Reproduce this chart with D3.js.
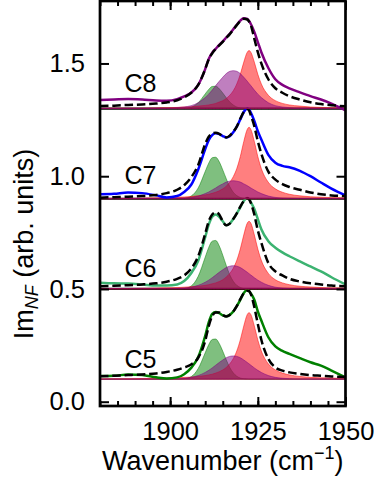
<!DOCTYPE html>
<html>
<head>
<meta charset="utf-8">
<script src="https://cdn.jsdelivr.net/npm/d3@7"></script>
<style>
  body { margin: 0; background: #fff; }
  svg { display: block; font-family: "Liberation Sans", Arial, sans-serif; }
</style>
</head>
<body>
<svg id="chart" width="374" height="482"></svg>
<script>
// sample grid, cm^-1
const wavenumber = [1880, 1884, 1888, 1892, 1896, 1899, 1902, 1904, 1906, 1908, 1910,
    1911, 1912, 1913, 1914, 1915, 1916, 1917, 1918, 1919, 1920, 1921,
    1922, 1922.5, 1923, 1924, 1925, 1926, 1928, 1930, 1932, 1934,
    1937, 1940, 1943, 1946, 1950]

const names = ['C5', 'C6', 'C7', 'C8']
const offsets = [0.1, 0.5, 0.9, 1.3]
const labelY = [0.15, 0.555, 0.965, 1.375]
const xTicks = [1900, 1925, 1950]
const yTicks = [0, 0.5, 1.0, 1.5]

// measured spectra (already offset)
const dataC5 = [.114, .115, .121, .118, .108, .103, .108, .122, .150, .198, .292,
    .352, .390, .398, .393, .383, .379, .385, .400, .424, .452, .482,
    .495, .490, .480, .452, .400, .360, .286, .245, .225, .212,
    .193, .175, .160, .138, .108]
const dataC6 = [.528, .525, .524, .520, .515, .515, .520, .535, .570, .625, .730,
    .785, .820, .830, .820, .800, .782, .790, .810, .835, .862, .890,
    .903, .898, .885, .855, .810, .765, .712, .683, .662, .645,
    .622, .600, .578, .552, .520]
const dataC7 = [.920, .922, .928, .925, .915, .906, .912, .930, .962, 1.030, 1.120,
    1.160, 1.182, 1.190, 1.187, 1.178, 1.172, 1.177, 1.195, 1.220, 1.252, 1.285,
    1.300, 1.296, 1.282, 1.245, 1.200, 1.163, 1.095, 1.060, 1.046, 1.040,
    1.024, 1.000, .972, .945, .915]
const dataC8 = [1.338, 1.340, 1.342, 1.340, 1.336, 1.335, 1.342, 1.354, 1.370, 1.405, 1.475,
    1.520, 1.548, 1.565, 1.582, 1.598, 1.615, 1.632, 1.652, 1.672, 1.690, 1.700,
    1.697, 1.688, 1.675, 1.640, 1.595, 1.550, 1.480, 1.430, 1.405, 1.390,
    1.372, 1.355, 1.340, 1.322, 1.292]

// fits (dashed)
const fitC5 = [.113, .115, .118, .121, .125, .132, .142, .152, .165, .195, .270,
    .335, .380, .396, .396, .385, .378, .385, .400, .424, .455, .482,
    .492, .490, .478, .420, .345, .275, .190, .152, .138, .130,
    .123, .118, .115, .112, .110]
const fitC6 = [.512, .514, .517, .520, .525, .532, .545, .560, .590, .645, .745,
    .800, .830, .840, .830, .800, .782, .790, .810, .835, .865, .890,
    .902, .898, .882, .830, .760, .705, .615, .578, .560, .545,
    .533, .525, .520, .515, .512]
const fitC7 = [.905, .907, .909, .912, .917, .925, .940, .960, .995, 1.050, 1.143,
    1.175, 1.190, 1.193, 1.188, 1.178, 1.172, 1.180, 1.197, 1.220, 1.255, 1.285,
    1.298, 1.292, 1.270, 1.222, 1.155, 1.100, 1.020, .985, .965, .952,
    .940, .928, .920, .915, .912]
const fitC8 = [1.311, 1.313, 1.316, 1.318, 1.322, 1.327, 1.337, 1.350, 1.370, 1.405, 1.475,
    1.518, 1.545, 1.565, 1.580, 1.596, 1.613, 1.630, 1.650, 1.670, 1.688, 1.698,
    1.695, 1.686, 1.670, 1.610, 1.550, 1.500, 1.430, 1.390, 1.370, 1.355,
    1.340, 1.328, 1.320, 1.315, 1.310]

// fitted components, height above each offset
const greenC5 = [0, 0, 0, 0, 0, 0, 0, .002, .011, .047, .117,
    .153, .176, .178, .158, .124, .086, .052, .028, .013, .005, .002,
    .001, 0, 0, 0, 0, 0, 0, 0, 0, 0, 0, 0, 0, 0, 0]
const greenC6 = [0, 0, 0, 0, 0, 0, 0, .002, .013, .056, .141,
    .184, .212, .215, .191, .150, .104, .063, .034, .016, .007, .002,
    .001, 0, 0, 0, 0, 0, 0, 0, 0, 0, 0, 0, 0, 0, 0]
const greenC7 = [0, 0, 0, 0, 0, 0, 0, .002, .012, .048, .121,
    .158, .182, .184, .164, .128, .089, .054, .029, .014, .006, .002,
    .001, 0, 0, 0, 0, 0, 0, 0, 0, 0, 0, 0, 0, 0, 0]
const greenC8 = [0, 0, 0, 0, 0, 0, 0, .001, .006, .026, .065,
    .085, .098, .099, .088, .069, .048, .029, .016, .007, .003, .001,
    0, 0, 0, 0, 0, 0, 0, 0, 0, 0, 0, 0, 0, 0, 0]

const redC5 = [.001, .002, .002, .003, .004, .005, .006, .008, .009, .012, .016,
    .019, .022, .027, .033, .041, .052, .068, .091, .125, .174, .236,
    .287, .295, .287, .236, .174, .125, .068, .041, .027, .019,
    .012, .008, .006, .005, .003]
const redC6 = [.002, .002, .002, .003, .004, .005, .006, .008, .010, .012, .016,
    .019, .023, .027, .033, .041, .053, .069, .092, .127, .177, .240,
    .292, .300, .292, .240, .177, .127, .069, .041, .027, .019,
    .012, .009, .006, .005, .004]
const redC7 = [.002, .002, .002, .003, .004, .005, .007, .008, .010, .013, .017,
    .020, .024, .029, .035, .044, .056, .073, .098, .134, .187, .254,
    .308, .317, .308, .254, .187, .134, .073, .044, .029, .020,
    .013, .009, .007, .005, .004]
const redC8 = [.001, .002, .002, .002, .003, .004, .005, .007, .008, .011, .014,
    .016, .019, .023, .029, .035, .045, .059, .079, .109, .152, .206,
    .250, .257, .250, .206, .152, .109, .059, .035, .023, .016,
    .011, .007, .005, .004, .003]

const purpleC5 = [0, .001, .001, .001, .001, .001, .002, .004, .008, .016, .030,
    .039, .050, .062, .074, .085, .095, .101, .103, .101, .095, .085,
    .074, .068, .062, .050, .039, .030, .016, .008, .004, .002,
    .001, .001, .001, .001, .001]
const purpleC6 = [0, .001, .001, .001, .001, .001, .002, .004, .008, .016, .030,
    .039, .050, .062, .074, .085, .095, .101, .103, .101, .095, .085,
    .074, .068, .062, .050, .039, .030, .016, .008, .004, .002,
    .001, .001, .001, .001, .001]
const purpleC7 = [0, 0, 0, .001, .001, .001, .002, .003, .006, .012, .023,
    .030, .039, .048, .058, .066, .074, .078, .080, .078, .074, .066,
    .058, .053, .048, .039, .030, .023, .012, .006, .003, .002,
    .001, .001, .001, .001, 0]
const purpleC8 = [.001, .001, .001, .001, .002, .002, .004, .007, .013, .026, .049,
    .064, .082, .102, .121, .139, .155, .165, .168, .165, .155, .139,
    .121, .111, .102, .082, .064, .049, .026, .013, .007, .004,
    .002, .002, .001, .001, .001]

const lineColors = ['#008000', '#3cb371', '#0000ff', '#800080']
const compColors = ['#008000', '#ff0000', '#800080']

const panels = [
    { data: dataC5, fit: fitC5, comps: [greenC5, redC5, purpleC5] },
    { data: dataC6, fit: fitC6, comps: [greenC6, redC6, purpleC6] },
    { data: dataC7, fit: fitC7, comps: [greenC7, redC7, purpleC7] },
    { data: dataC8, fit: fitC8, comps: [greenC8, redC8, purpleC8] }
]

function draw() {
    const w = 374
    const h = 482
    const margin = { top: 1, right: 28.5, bottom: 76, left: 100 }
    const width = w - margin.left - margin.right
    const height = h - margin.top - margin.bottom

    const x = d3.scaleLinear().domain([1880, 1950]).range([0, width])
    const y = d3.scaleLinear().domain([-0.019, 1.777]).range([height, 0])

    const svg = d3.select('#chart')
    const chart = svg.append('g')
        .attr('transform', `translate(${margin.left}, ${margin.top})`)

    chart.append('clipPath').attr('id', 'clip')
        .append('rect').attr('width', width).attr('height', height)

    const plot = chart.append('g').attr('clip-path', 'url(#clip)')

    // panel separators
    plot.selectAll('.sep')
        .data(offsets.slice(1))
        .join('line')
        .attr('x1', 0).attr('x2', width)
        .attr('y1', d => y(d)).attr('y2', d => y(d))
        .attr('stroke', '#000')
        .attr('stroke-width', 2.2)

    panels.forEach((p, i) => {
        const off = offsets[i]
        const g = plot.append('g')
        p.comps.forEach((comp, j) => {
            const area = d3.area()
                .x((d, k) => x(wavenumber[k]))
                .y0(y(off))
                .y1(d => y(off + d))
                .curve(d3.curveMonotoneX)
            g.append('path')
                .datum(comp)
                .attr('d', area)
                .attr('fill', compColors[j])
                .attr('fill-opacity', 0.5)
                .attr('stroke', compColors[j])
                .attr('stroke-opacity', 0.5)
                .attr('stroke-width', 1)
        })
        const line = d3.line()
            .x((d, k) => x(wavenumber[k]))
            .y(d => y(d))
            .curve(d3.curveMonotoneX)
        g.append('path')
            .datum(p.data)
            .attr('d', line)
            .attr('fill', 'none')
            .attr('stroke', lineColors[i])
            .attr('stroke-width', 2.5)
        g.append('path')
            .datum(p.fit)
            .attr('d', line)
            .attr('fill', 'none')
            .attr('stroke', '#000')
            .attr('stroke-width', 2.5)
            .attr('stroke-dasharray', '8.5,3.8')
        chart.append('text')
            .attr('x', x(1887))
            .attr('y', y(labelY[i]))
            .attr('font-size', 25)
            .text(names[i])
    })

    // axes, ticks pointing inward
    const minor = d3.range(1880, 1951, 5)
    const styleAxis = sel => {
        sel.select('.domain').remove()
        sel.selectAll('line').attr('stroke-width', 2)
        sel.selectAll('text').attr('font-size', 25.5).attr('fill', '#000')
            .attr('font-family', '"Liberation Sans", Arial, sans-serif')
    }
    chart.append('g').attr('transform', `translate(0, ${height})`)
        .call(d3.axisBottom(x).tickValues(minor).tickSize(-5).tickFormat(''))
        .call(styleAxis)
    chart.append('g').attr('transform', `translate(0, ${height})`)
        .call(d3.axisBottom(x).tickValues(xTicks).tickSize(-9).tickPadding(16).tickFormat(d3.format('d')))
        .call(styleAxis)
    chart.append('g')
        .call(d3.axisTop(x).tickValues(minor).tickSize(-5).tickFormat(''))
        .call(styleAxis)
    chart.append('g')
        .call(d3.axisTop(x).tickValues(xTicks).tickSize(-9).tickFormat(''))
        .call(styleAxis)
    chart.append('g')
        .call(d3.axisLeft(y).tickValues(yTicks).tickSize(-9).tickPadding(15).tickFormat(d3.format('.1f')))
        .call(styleAxis)
    chart.append('g').attr('transform', `translate(${width}, 0)`)
        .call(d3.axisRight(y).tickValues(yTicks).tickSize(-9).tickFormat(''))
        .call(styleAxis)

    chart.append('rect')
        .attr('width', width)
        .attr('height', height)
        .attr('fill', 'none')
        .attr('stroke', '#000')
        .attr('stroke-width', 2.7)

    // axis labels
    const ylab = svg.append('text')
        .attr('transform', 'translate(33, 244) rotate(-90)')
        .attr('text-anchor', 'middle')
        .attr('font-size', 27)
    ylab.append('tspan').text('Im')
    ylab.append('tspan').attr('font-size', 18).attr('font-style', 'italic')
        .attr('dy', 5).text('NF')
    ylab.append('tspan').attr('dy', -5).text(' (arb. units)')

    const xlab = svg.append('text')
        .attr('x', margin.left + width / 2)
        .attr('y', 470)
        .attr('text-anchor', 'middle')
        .attr('font-size', 27)
    xlab.append('tspan').text('Wavenumber (cm')
    xlab.append('tspan').attr('font-size', 18).attr('dy', -11).text('\u22121')
    xlab.append('tspan').attr('dy', 11).text(')')
}

draw()
</script>
</body>
</html>
